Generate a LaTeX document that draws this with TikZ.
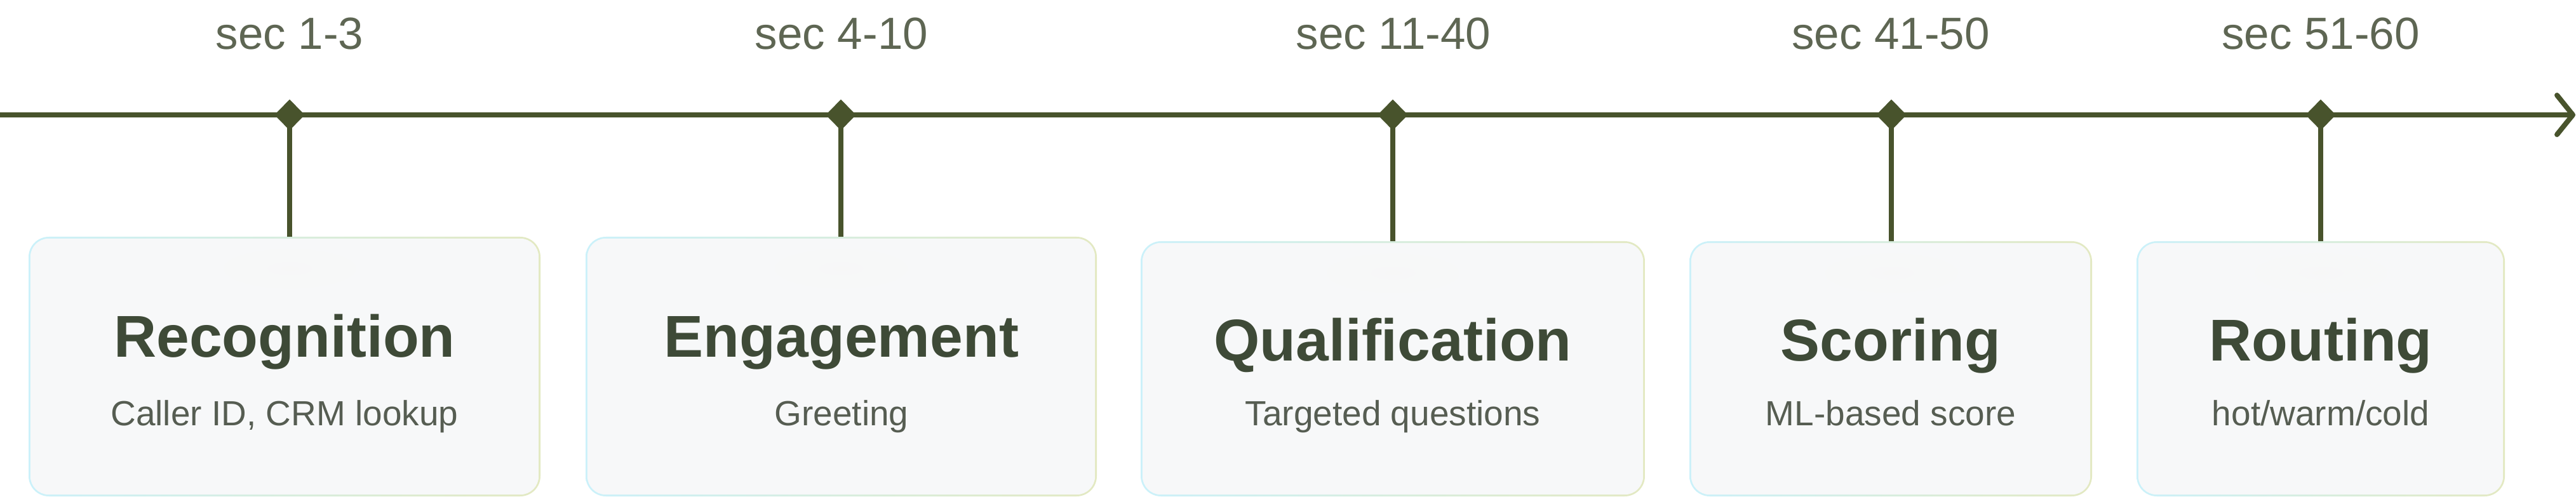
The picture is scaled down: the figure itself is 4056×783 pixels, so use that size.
\documentclass[tikz,border=0pt]{standalone}
\usepackage{fontspec}
\setmainfont{Liberation Sans}
\usetikzlibrary{shapes.geometric,calc}
\definecolor{lineC}{HTML}{48532C}
\definecolor{titleC}{HTML}{3E4A37}
\definecolor{secC}{HTML}{5E6653}
\definecolor{subC}{HTML}{565D52}
\definecolor{boxfill}{HTML}{F7F8F9}
\definecolor{bordA}{HTML}{CBF1FA}
\definecolor{bordB}{HTML}{E3E9C2}
\begin{document}
\begin{tikzpicture}[x=1pt,y=-1pt]
\tikzset{
  tl/.style={line width=8pt, draw=lineC},
  diam/.style={diamond, fill=lineC, inner sep=0pt, minimum width=47pt, minimum height=48pt},
  card/.style={rounded corners=32pt, left color=bordA, right color=bordB, inner sep=0pt, draw=none},
  secl/.style={font=\fontsize{71}{80}\selectfont, text=secC, anchor=base, inner sep=0pt},
  ttl/.style={font=\bfseries\fontsize{93}{100}\selectfont, text=titleC, anchor=base, inner sep=0pt},
  sub/.style={font=\fontsize{55}{60}\selectfont, text=subC, anchor=base, inner sep=0pt},
}
\useasboundingbox (0,0) rectangle (4056,783);
% timeline
\coordinate (tS) at (0,181);
\coordinate (tE) at (4051,181);
\draw[tl] (tS) -- (tE);
\draw[tl, line cap=round, line join=round] ($(tE)+(-25,-31)$) -- (tE) -- ($(tE)+(-25,31)$);
% markers
\node[diam] (d1) at (456,181) {};
\node[diam] (d2) at (1324,181) {};
\node[diam] (d3) at (2193,181) {};
\node[diam] (d4) at (2978,181) {};
\node[diam] (d5) at (3654,181) {};
% time labels
\node[secl] (s1) at (456,78) {sec 1-3};
\node[secl] (s2) at (1325,78) {sec 4-10};
\node[secl] (s3) at (2194,78) {sec 11-40};
\node[secl] (s4) at (2977,78) {sec 41-50};
\node[secl] (s5) at (3654,78) {sec 51-60};
% cards
\node[card, minimum width=806pt, minimum height=409pt] (b1) at (448,577.5) {};
\node[card, minimum width=805pt, minimum height=409pt] (b2) at (1324.5,577.5) {};
\node[card, minimum width=794pt, minimum height=402pt] (b3) at (2193,581) {};
\node[card, minimum width=634pt, minimum height=402pt] (b4) at (2977,581) {};
\node[card, minimum width=580pt, minimum height=402pt] (b5) at (3654,581) {};
\foreach \b in {b1,b2,b3,b4,b5}{
  \fill[boxfill, rounded corners=29pt] ([shift={(3,3)}]\b.north west) rectangle ([shift={(-3,-3)}]\b.south east);
}
% soft glow under stems
\foreach \d/\b in {d1/b1,d2/b2,d3/b3,d4/b4,d5/b5}{
  \shade[inner color=black!3, outer color=boxfill] ($(\d |- \b.north)+(0,50)$) ellipse (150 and 45);
}
% stems
\foreach \d/\b in {d1/b1,d2/b2,d3/b3,d4/b4,d5/b5}{
  \draw[tl] (\d.center) -- (\d.center |- \b.north);
}
% redraw markers on top
\foreach \d in {d1,d2,d3,d4,d5}{
  \fill[lineC] (\d.north) -- (\d.east) -- (\d.south) -- (\d.west) -- cycle;
}
% texts
\node[ttl] (t1) at (448,562) {Recognition};
\node[sub] (u1) at (448,670) {Caller ID, CRM lookup};
\node[ttl] (t2) at (1325,562) {Engagement};
\node[sub] (u2) at (1325,670) {Greeting};
\node[ttl] (t3) at (2193,568) {Qualification};
\node[sub] (u3) at (2193,670) {Targeted questions};
\node[ttl] (t4) at (2977,568) {Scoring};
\node[sub] (u4) at (2977,670) {ML-based score};
\node[ttl] (t5) at (3654,568) {Routing};
\node[sub] (u5) at (3654,670) {hot/warm/cold};
\end{tikzpicture}
\end{document}
